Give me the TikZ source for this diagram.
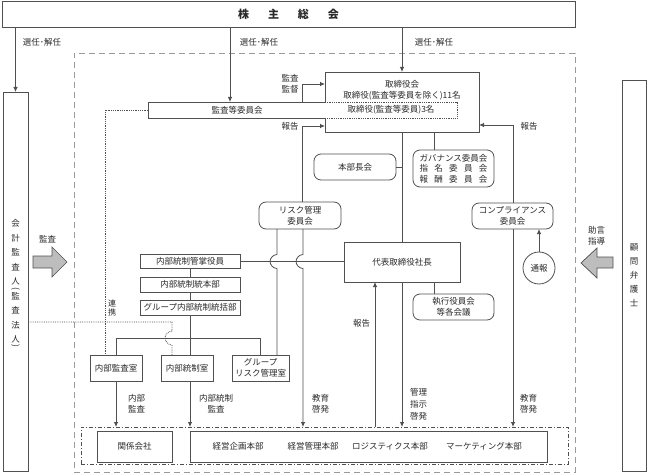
\documentclass[tikz,border=0pt]{standalone}
\usepackage{fontspec}
\usepackage{graphicx}
\setmainfont{Noto Sans CJK JP}
\usetikzlibrary{arrows.meta}
\definecolor{ln}{HTML}{505050}
\definecolor{tx}{HTML}{2A2A2A}
\definecolor{arrowfill}{HTML}{BDBDBD}
\definecolor{frm}{HTML}{9A9A9A}
\begin{document}
\begin{tikzpicture}[x=1pt,y=-1pt,
  every node/.style={font=\fontsize{8.5}{11}\selectfont, text=tx, inner sep=0pt, outer sep=0pt},
  box/.style={draw=ln, line width=0.8pt, fill=white, align=center},
  rbox/.style={box, rounded corners=7pt},
  conn/.style={draw=ln, line width=0.8pt},
  arr/.style={conn, -{Latex[length=5pt,width=4.5pt]}},
  dotline/.style={draw=ln, line width=0.8pt, densely dotted},
  lbl/.style={align=center},
]
\useasboundingbox (0,0) rectangle (647,473);

% frames
\node[draw=frm, line width=0.8pt, dash pattern=on 6pt off 4pt, minimum width=501pt, minimum height=419pt] (outer) at (324.5,262.5) {};
\node[draw=ln, line width=0.7pt, dash pattern=on 4pt off 2pt on 1pt off 2pt, minimum width=487pt, minimum height=37pt] (groupframe) at (324.5,445.5) {};

% top
\node[box, minimum width=573pt, minimum height=26pt, font=\fontsize{11}{13}\selectfont\bfseries] (soukai) at (288.5,14) {株\hspace{19pt}主\hspace{19pt}総\hspace{19pt}会};

% side boxes
\node[box, minimum width=25pt, minimum height=379pt, font=\fontsize{8.5}{14.5}\selectfont] (kansa) at (15.5,281.5) {会\\計\\監\\査\\人\\監\\査\\法\\人};
\node (kp1) at (15.5,289.3) {\rotatebox[origin=c]{-90}{(}};
\node (kp2) at (15.5,346.5) {\rotatebox[origin=c]{-90}{)}};
\node[box, minimum width=24pt, minimum height=391pt, font=\fontsize{8.5}{14}\selectfont] (bengoshi) at (634,275.5) {顧\\問\\弁\\護\\士};

% board
\node[box, minimum width=154pt, minimum height=60pt] (torishimari) at (402,102) {};
\node[lbl] (tortext) at (402,90) {取締役会\\取締役(監査等委員を除く)11名};
\node[fill=white, minimum width=178pt, minimum height=16pt] (kansaiinkai) at (237,110) {監査等委員会\hspace{15pt}};
\draw[conn] (kansaiinkai.north east) -- (kansaiinkai.north west) -- (kansaiinkai.south west) -- (kansaiinkai.south east);
\node[minimum width=132pt, minimum height=16pt] (iin3) at (391,110) {取締役(監査等委員)3名};
\draw[dotline] (iin3.north west) -- (iin3.north east) -- (iin3.south east) -- (iin3.south west);

% committees
\node[rbox, minimum width=82pt, minimum height=26pt] (honbuchokai) at (355,167) {本部長会};
\node[rbox, minimum width=81pt, minimum height=37pt, font=\fontsize{8.5}{10.3}\selectfont] (gov) at (453.5,168.5) {ガバナンス委員会\\\makebox[68pt][s]{指\hfill 名\hfill 委\hfill 員\hfill 会}\\\makebox[68pt][s]{報\hfill 酬\hfill 委\hfill 員\hfill 会}};
\node[rbox, minimum width=82pt, minimum height=27pt] (risk) at (300,215.5) {リスク管理\\委員会};
\node[rbox, minimum width=81pt, minimum height=26pt] (compliance) at (512.5,216) {コンプライアンス\\委員会};
\node[draw=ln, line width=0.8pt, fill=white, circle, minimum size=32pt] (tsuho) at (539,268) {通報};
\node[box, minimum width=116pt, minimum height=40pt] (shacho) at (402,262) {代表取締役社長};
\node[rbox, minimum width=81pt, minimum height=26pt] (shikko) at (453.5,307) {執行役員会\\等各会議};

% internal control
\node[box, minimum width=100pt, minimum height=14pt] (kanshou) at (190,261.5) {内部統制管掌役員};
\node[box, minimum width=100pt, minimum height=15pt] (honbu) at (190,284.5) {内部統制統本部};
\node[box, minimum width=100pt, minimum height=15pt] (group) at (190,307.5) {グループ内部統制統括部};
\node[box, minimum width=52pt, minimum height=26pt] (naibukansa) at (116,368) {内部監査室};
\node[box, minimum width=52pt, minimum height=26pt] (naibutousei) at (187,368) {内部統制室};
\node[box, minimum width=57pt, minimum height=26pt] (grisk) at (260.5,368) {グループ\\リスク管理室};

% bottom
\node[box, minimum width=75pt, minimum height=31pt] (kankei) at (134.5,446.5) {関係会社};
\node[box, minimum width=357pt, minimum height=31pt] (honbus) at (368.5,446.5) {};
\node (t1) at (238,446.5) {経営企画本部};
\node (t2) at (313,446.5) {経営管理本部};
\node (t3) at (390,446.5) {ロジスティクス本部};
\node (t4) at (484,446.5) {マーケティング本部};

% big arrows
\filldraw[fill=arrowfill, draw=ln, line width=0.7pt] (33,256) -- (52,256) -- (52,247) -- (67,262) -- (52,277) -- (52,268) -- (33,268) -- cycle;
\filldraw[fill=arrowfill, draw=ln, line width=0.7pt] (613,257) -- (597,257) -- (597,248) -- (581,263) -- (597,278) -- (597,268) -- (613,268) -- cycle;

% connectors from shareholders
\draw[arr] (soukai.south -| kansa.north) -- (kansa.north);
\draw[arr] (soukai.south -| 230,0) -- (kansaiinkai.north -| 230,0);
\draw[arr] (soukai.south -| torishimari.north) -- (torishimari.north);

% audit committee / board
\draw[arr] (kansaiinkai.north -| 302,0) |- (torishimari.west |- 0,84);
\draw[arr] (risk.north -| 302,0) |- (torishimari.west |- 0,126);
\draw[arr] (compliance.north -| 513,0) |- (torishimari.east |- 0,125);
\draw[conn] (torishimari.south -| shacho.north) -- (shacho.north);
\draw[conn] (honbuchokai.east) -- (honbuchokai.east -| shacho.north);
\draw[conn] (torishimari.south -| 434,0) -- (gov.north -| 434,0);
\draw[conn] (shacho.south -| 434,0) -- (shikko.north -| 434,0);
\draw[arr] (tsuho.north) -- (tsuho.north |- compliance.south);
\draw[arr] (compliance.south -| 513,0) -- (groupframe.north -| 513,0);
\draw[arr] (shacho.south) -- (groupframe.north -| shacho.south);
\draw[arr] (groupframe.north -| 375,0) -- (shacho.south -| 375,0);

% internal control lines
\draw[conn] (kanshou.east) -- (shacho.west |- kanshou.east);
\draw[conn] (kanshou.south) -- (honbu.north);
\draw[conn] (honbu.south) -- (group.north);
\draw[conn] (group.south) -- (group.south |- naibutousei.north);
\draw[conn] (naibukansa.north) -- ++(0,-17) -| (grisk.north);
\draw[conn] (risk.south -| 277,0) -- (277,254.5) .. controls (273.1,254.5) and (270,258.4) .. (270,261.5) .. controls (270,264.6) and (273.1,268.5) .. (277,268.5) -- (grisk.north -| 277,0);
\draw[arr] (risk.south -| 303,0) -- (303,254.5) .. controls (299.1,254.5) and (296,258.4) .. (296,261.5) .. controls (296,264.6) and (299.1,268.5) .. (303,268.5) -- (groupframe.north -| 303,0);
\draw[arr] (naibukansa.south) -- (groupframe.north -| naibukansa.south);
\draw[arr] (naibutousei.south -| group.south) -- (groupframe.north -| group.south);

% dotted links
\draw[dotline] (kansaiinkai.west) -| (naibukansa.north -| 105,0);
\draw[dotline] (kansa.east |- 0,322) -- (172,322) -- (172,331) .. controls (168.1,331) and (165,334.9) .. (165,338) .. controls (165,341.1) and (168.1,345) .. (172,345) -- (naibutousei.north -| 172,0);

% labels
\node[lbl] (l1) at (42,42) {選任･解任};
\node[lbl] (l2) at (259,42) {選任･解任};
\node[lbl] (l3) at (434,42) {選任･解任};
\node[lbl] (l4) at (290,83.5) {監査\\監督};
\node[lbl] (l5) at (290,126.5) {報告};
\node[lbl] (l6) at (529,126.5) {報告};
\node[lbl] (l7) at (47.5,239) {監査};
\node[lbl] (l8) at (596.5,235.5) {助言\\指導};
\node[lbl, font=\fontsize{8}{9.5}\selectfont] (l9) at (112,308) {連\\携};
\node[lbl] (l10) at (361.5,323) {報告};
\node[lbl] (l11) at (136.5,403.5) {内部\\監査};
\node[lbl] (l12) at (216,403.5) {内部統制\\監査};
\node[lbl] (l13) at (320.5,403.5) {教育\\啓発};
\node[lbl, font=\fontsize{8.5}{12}\selectfont] (l14) at (418.5,404) {管理\\指示\\啓発};
\node[lbl] (l15) at (528.5,404) {教育\\啓発};
\end{tikzpicture}
\end{document}
